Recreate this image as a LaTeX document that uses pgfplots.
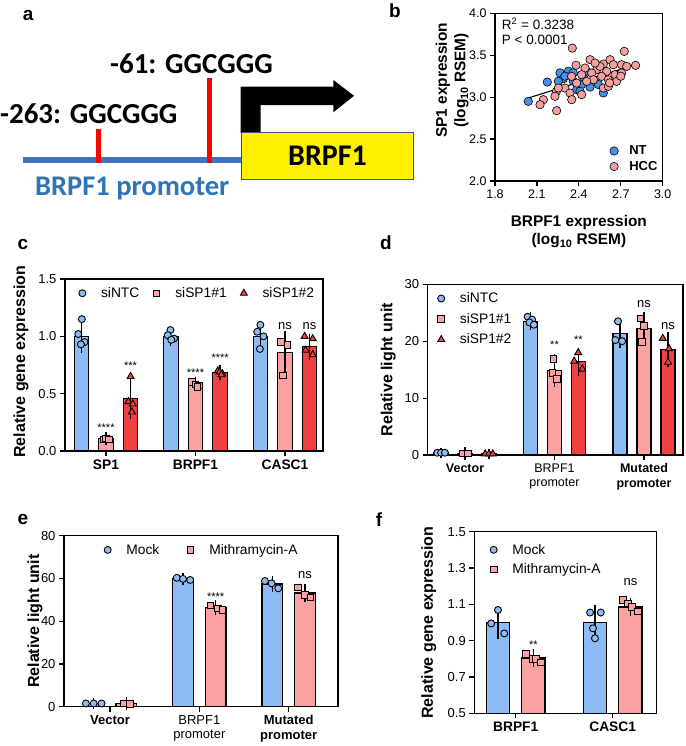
\documentclass[border=0pt]{standalone}
\usepackage{fontspec}
\setmainfont{Liberation Sans}
\newfontfamily\calfont{Carlito}
\usepackage{pgfplots}
\pgfplotsset{compat=1.18}

\definecolor{barblue}{RGB}{141,188,244}
\definecolor{barpink}{RGB}{250,162,162}
\definecolor{barred}{RGB}{242,64,64}
\definecolor{ntblue}{RGB}{70,145,235}
\definecolor{hccpink}{RGB}{245,160,160}
\definecolor{promblue}{RGB}{46,117,182}
\definecolor{linblue}{RGB}{68,114,196}
\definecolor{boxedge}{RGB}{47,82,143}

\newcommand{\fs}[1]{\fontsize{#1}{#1}\selectfont}

\pgfplotsset{
  panel/.style={
    scale only axis, anchor=south west, clip=false,
    axis line style={line width=1.3pt},
    tick pos=left, tick align=outside, major tick length=5pt,
    every tick/.style={black, line width=1.2pt},
    /pgf/number format/assume math mode=true,
    yticklabel style={font=\fs{13}},
    xticklabel style={font=\fs{13}},
    ylabel style={font=\bfseries\fs{16}, anchor=center},
    legend style={draw=none, fill=none, font=\fs{13.8}},
    legend cell align=left,
    legend image code/.code={\draw[##1] plot coordinates {(0pt,0pt)};\path (-5pt,0pt) (16.5pt,0pt);},
  },
  onedec/.style={yticklabel style={/pgf/number format/fixed, /pgf/number format/fixed zerofill, /pgf/number format/precision=1}},
  bars/.style 2 args={ybar, bar width=#1, bar shift=0pt, fill=#2, draw=black, line width=1.2pt, forget plot,
    error bars/.cd, y dir=both, y explicit,
    error bar style={line width=1.2pt, black},
    error mark options={mark size=5pt, line width=1.2pt, black}},
  pts/.style 2 args={only marks, forget plot, mark=#1, mark options={fill=#2, draw=black, line width=0.9pt}},
}

\begin{document}
\begin{tikzpicture}
\path[use as bounding box] (0,0) rectangle (685pt,-746pt);

% panel letters
\node[anchor=base west, inner sep=0, font=\bfseries\fs{19}] at (22.7pt,-20.7pt) {a};
\node[anchor=base west, inner sep=0, font=\bfseries\fs{19}] at (389pt,-17.3pt) {b};
\node[anchor=base west, inner sep=0, font=\bfseries\fs{19}] at (17.3pt,-249pt) {c};
\node[anchor=base west, inner sep=0, font=\bfseries\fs{19}] at (380pt,-249pt) {d};
\node[anchor=base west, inner sep=0, font=\bfseries\fs{19}] at (17.3pt,-524pt) {e};
\node[anchor=base west, inner sep=0, font=\bfseries\fs{19}] at (375.7pt,-526pt) {f};

% ---------------- panel a (schematic) ----------------
\begin{axis}[scale only axis, hide axis, anchor=north west, at={(0pt,0pt)},
  width=440pt, height=200pt, xmin=0, xmax=440, ymin=0, ymax=200, y dir=reverse, clip=false]
\draw[linblue, line width=6pt] (22.7,160) -- (242,160);
\draw[red, line width=5pt] (98,129) -- (98,163);
\draw[red, line width=5pt] (209,78.3) -- (209,163);
\fill[black] (240.7,133) -- (240.7,86.7) -- (333.3,86.7) -- (333.3,80) -- (354,95.8)
  -- (333.3,112.3) -- (333.3,105) -- (260.7,105) -- (260.7,133) -- cycle;
\draw[boxedge, line width=1.5pt, fill=yellow] (241.7,132.7) rectangle (413.3,179.3);
\node[anchor=base west, inner sep=0, font=\calfont\bfseries\fs{29}] at (110,74) {-61: GGCGGG};
\node[anchor=base west, inner sep=0, font=\calfont\bfseries\fs{29}] at (0,123.3) {-263: GGCGGG};
\node[anchor=base west, inner sep=0, font=\calfont\bfseries\fs{28.5}, text=promblue] at (35,195) {BRPF1 promoter};
\node[anchor=base, inner sep=0, font=\calfont\bfseries\fs{30}] at (327.5,165) {BRPF1};
\end{axis}

% ---------------- panel b (scatter) ----------------
\begin{axis}[panel, onedec, at={(495pt,-181pt)}, width=167.7pt, height=167.7pt,
  xmin=1.8, xmax=3.0, ymin=2, ymax=4,
  xtick={1.8,2.1,2.4,2.7,3.0}, ytick={2,2.5,3,3.5,4},
  xticklabel style={font=\fs{12.5}, /pgf/number format/fixed, /pgf/number format/fixed zerofill, /pgf/number format/precision=1},
  yticklabel style={font=\fs{12.5}},
  xlabel={BRPF1 expression\\(log\textsubscript{10} RSEM)},
  xlabel style={font=\bfseries\fontsize{15.4}{18.5}\selectfont, align=center, at={(axis description cs:0.5,-0.30)}, anchor=center},
  ylabel={SP1 expression\\(log\textsubscript{10} RSEM)},
  ylabel style={font=\bfseries\fontsize{15.4}{18.5}\selectfont, align=center, at={(axis description cs:-0.255,0.6)}},
  legend image code/.code={\draw[#1] plot coordinates {(0pt,0pt)};\path (-5pt,0pt) (13pt,0pt);},
  legend style={at={(rel axis cs:0.66,0.03)}, anchor=south west, font=\bfseries\fs{13}, row sep=1pt},
]
\addlegendimage{only marks, mark=*, mark size=4.2pt, mark options={fill=ntblue, draw=black, line width=0.6pt}}
\addlegendentry{NT}
\addlegendimage{only marks, mark=*, mark size=4.2pt, mark options={fill=hccpink, draw=black, line width=0.6pt}}
\addlegendentry{HCC}
\addplot[only marks, forget plot, mark=*, mark size=4.2pt, mark options={fill=ntblue, draw=black, line width=0.6pt}] coordinates {
(2.038,2.95) (2.174,3.18) (2.265,3.29) (2.289,3.22) (2.253,3.19) (2.325,3.31)
(2.36,3.19) (2.384,3.09) (2.42,3.15) (2.432,3.24) (2.408,3.07) (2.54,3.15)
(2.575,3.05) (2.36,3.29) (2.456,3.31) (2.30,3.25) (2.48,3.12)
};
\addplot[only marks, forget plot, mark=*, mark size=4.2pt, mark options={fill=hccpink, draw=black, line width=0.6pt}] coordinates {
(2.353,3.585) (2.725,3.546) (2.806,3.379) (2.38,3.38) (2.48,3.447) (2.575,3.395)
(2.623,3.447) (2.647,3.387) (2.706,3.387) (2.742,3.367) (2.444,3.347) (2.527,3.327)
(2.599,3.307) (2.492,3.288) (2.42,3.268) (2.348,3.248) (2.563,3.248) (2.659,3.268)
(2.706,3.288) (2.504,3.208) (2.611,3.208) (2.67,3.188) (2.384,3.168) (2.456,3.188)
(2.30,3.109) (2.24,3.07) (2.337,3.049) (2.229,3.01) (2.349,2.97) (2.42,3.03)
(2.575,3.109) (2.611,3.128) (2.146,2.97) (2.122,2.91) (2.241,2.839) (2.253,3.109)
(2.551,3.367) (2.516,3.407) (2.62,3.17) (2.70,3.25)
};
\addplot[black, line width=1.1pt, forget plot] coordinates {(2.038,2.99) (2.806,3.387)};
\node[anchor=north west, align=left, inner sep=0, font=\fontsize{13.5}{15.3}\selectfont] at (rel axis cs:0.04,0.975) {R\textsuperscript{2} = 0.3238\\P < 0.0001};
\end{axis}

% ---------------- panel c ----------------
\begin{axis}[panel, onedec, at={(65pt,-451pt)}, width=258pt, height=172pt,
  xmin=-0.458, xmax=2.425, ymin=0, ymax=1.5, ytick={0,0.5,1,1.5},
  xtick={0,1,2}, xticklabels={SP1,BRPF1,CASC1}, xticklabel style={font=\bfseries\fs{13.8}},
  ylabel={Relative gene expression}, ylabel style={at={(axis description cs:-0.17,0.52)}},
  legend columns=3, legend style={at={(rel axis cs:0.51,0.975)}, anchor=north, /tikz/every even column/.append style={column sep=10pt}},
]
\addlegendimage{only marks, mark=*, mark size=3.5pt, mark options={fill=barblue, draw=black, line width=0.9pt}}
\addlegendentry{siNTC}
\addlegendimage{only marks, mark=square*, mark size=3.3pt, mark options={fill=barpink, draw=black, line width=0.9pt}}
\addlegendentry{siSP1\#1}
\addlegendimage{only marks, mark=triangle*, mark size=4pt, mark options={fill=barred, draw=black, line width=0.9pt}}
\addlegendentry{siSP1\#2}
\addplot[bars={0.162}{barblue}] coordinates {(-0.275,1.0) +- (0,0.10) (0.725,1.0) +- (0,0.04) (1.725,1.0) +- (0,0.09)};
\addplot[bars={0.162}{barpink}] coordinates {(0,0.11) +- (0,0.015) (1,0.585) +- (0,0.02) (2,0.86) +- (0,0.14)};
\addplot[bars={0.162}{barred}] coordinates {(0.275,0.46) +- (0,0.14) (1.275,0.685) +- (0,0.02) (2.275,0.91) +- (0,0.07)};
\addplot[pts={*}{barblue}, mark size=3.5pt] coordinates {
(-0.27,1.15) (-0.31,1.02) (-0.24,0.95) (-0.28,0.93)
(0.72,1.055) (0.69,1.01) (0.76,0.98) (0.73,0.97)
(1.725,1.10) (1.69,1.04) (1.76,1.0) (1.72,0.89)};
\addplot[pts={square*}{barpink}, mark size=3.3pt] coordinates {
(-0.03,0.10) (0.0,0.11) (0.03,0.10)
(0.96,0.60) (1.0,0.58) (1.04,0.57) (1.02,0.56)
(1.955,0.95) (2.026,0.925) (1.98,0.66)};
\addplot[pts={triangle*}{barred}, mark size=4pt] coordinates {
(0.275,0.65) (0.25,0.43) (0.30,0.41) (0.29,0.34)
(1.25,0.70) (1.27,0.69) (1.30,0.675) (1.29,0.665)
(2.22,1.0) (2.31,0.98) (2.23,0.88) (2.31,0.84)};
\node[font=\fs{11}] at (axis cs:0,0.20) {****};
\node[font=\fs{11}] at (axis cs:0.275,0.74) {***};
\node[font=\fs{11}] at (axis cs:1,0.68) {****};
\node[font=\fs{11}] at (axis cs:1.275,0.81) {****};
\node[font=\fs{13}] at (axis cs:2,1.09) {ns};
\node[font=\fs{13}] at (axis cs:2.275,1.09) {ns};
\end{axis}

% ---------------- panel d ----------------
\begin{axis}[panel, at={(427.7pt,-455pt)}, width=255.3pt, height=170.7pt,
  xmin=-0.417, xmax=2.436, ymin=0, ymax=30, ytick={0,10,20,30},
  xtick={0,1,2}, xticklabels={\textbf{Vector}, {BRPF1\\promoter}, {\textbf{Mutated}\\\textbf{promoter}}},
  xticklabel style={align=center, font=\fontsize{12.5}{14.5}\selectfont},
  ylabel={Relative light unit}, ylabel style={at={(axis description cs:-0.154,0.5)}},
  legend style={at={(rel axis cs:0.02,0.975)}, anchor=north west, row sep=5pt},
]
\addlegendimage{only marks, mark=*, mark size=3.5pt, mark options={fill=barblue, draw=black, line width=0.9pt}}
\addlegendentry{siNTC}
\addlegendimage{only marks, mark=square*, mark size=3.3pt, mark options={fill=barpink, draw=black, line width=0.9pt}}
\addlegendentry{siSP1\#1}
\addlegendimage{only marks, mark=triangle*, mark size=4pt, mark options={fill=barred, draw=black, line width=0.9pt}}
\addlegendentry{siSP1\#2}
\addplot[bars={0.156}{barblue}] coordinates {(-0.268,0.4) +- (0,0.02) (0.732,23.5) +- (0,0.7) (1.732,21.3) +- (0,1.7)};
\addplot[bars={0.156}{barpink}] coordinates {(0,0.3) +- (0,0.3) (1,14.8) +- (0,2.0) (2,22.2) +- (0,2.1)};
\addplot[bars={0.156}{barred}] coordinates {(0.268,0.2) +- (0,0.05) (1.268,16.4) +- (0,1.6) (2.268,18.5) +- (0,2.2)};
\addplot[pts={*}{barblue}, mark size=3.5pt] coordinates {
(-0.31,0.4) (-0.268,0.4) (-0.225,0.4)
(0.70,24.3) (0.75,23.8) (0.72,23.3) (0.77,22.9)
(1.71,23.5) (1.68,20.2) (1.755,20.0)};
\addplot[pts={square*}{barpink}, mark size=3.3pt] coordinates {
(-0.03,0.3) (0.03,0.3)
(0.99,16.9) (0.975,14.4) (1.025,13.4)
(1.96,24.0) (2.0,22.7) (1.98,19.9)};
\addplot[pts={triangle*}{barred}, mark size=4pt] coordinates {
(0.225,0.2) (0.268,0.2) (0.31,0.2)
(1.265,18.0) (1.22,16.5) (1.31,15.1)
(2.21,20.5) (2.28,18.7) (2.27,16.3)};
\node[font=\fs{11}] at (axis cs:1,19.3) {**};
\node[font=\fs{11}] at (axis cs:1.268,20.2) {**};
\node[font=\fs{13}] at (axis cs:2,26.5) {ns};
\node[font=\fs{13}] at (axis cs:2.268,22.7) {ns};
\end{axis}

% ---------------- panel e ----------------
\begin{axis}[panel, at={(64pt,-706.7pt)}, width=274pt, height=171pt,
  xmin=-0.515, xmax=2.552, ymin=0, ymax=80, ytick={0,20,40,60,80},
  xtick={0,1,2}, xticklabels={\textbf{Vector}, {BRPF1\\promoter}, {\textbf{Mutated}\\\textbf{promoter}}},
  xticklabel style={align=center, font=\fontsize{13}{14.5}\selectfont},
  ylabel={Relative light unit}, ylabel style={at={(axis description cs:-0.106,0.5)}},
  legend columns=2, legend style={at={(rel axis cs:0.5,0.975)}, anchor=north, /tikz/every even column/.append style={column sep=24pt}},
]
\addlegendimage{only marks, mark=*, mark size=3.5pt, mark options={fill=barblue, draw=black, line width=0.9pt}}
\addlegendentry{Mock}
\addlegendimage{only marks, mark=square*, mark size=3.3pt, mark options={fill=barpink, draw=black, line width=0.9pt}}
\addlegendentry{Mithramycin-A}
\addplot[bars={0.232}{barblue}] coordinates {(-0.183,1.5) +- (0,0.1) (0.817,59.8) +- (0,0.5) (1.817,57.4) +- (0,1.3)};
\addplot[bars={0.232}{barpink}] coordinates {(0.183,1.5) +- (0,0.7) (1.183,46.4) +- (0,1.3) (2.183,53.2) +- (0,2.0)};
\addplot[pts={*}{barblue}, mark size=3.5pt] coordinates {
(-0.27,1.5) (-0.183,1.5) (-0.095,1.5)
(0.747,60.3) (0.817,59.8) (0.897,59.3)
(1.734,58.8) (1.809,57.7) (1.883,55.4)};
\addplot[pts={square*}{barpink}, mark size=3.3pt] coordinates {
(0.15,1.6) (0.22,1.3)
(1.126,47.4) (1.211,45.9) (1.26,45.2)
(2.106,55.8) (2.183,52.3) (2.245,51.2)};
\node[font=\fs{11}] at (axis cs:1.183,51.5) {****};
\node[font=\fs{13}] at (axis cs:2.183,61.6) {ns};
\end{axis}

% ---------------- panel f ----------------
\begin{axis}[panel, onedec, clip=true, at={(474.3pt,-713.3pt)}, width=182.4pt, height=181.6pt,
  xmin=-0.427, xmax=1.454, ymin=0.5, ymax=1.5, ytick={0.5,0.7,0.9,1.1,1.3,1.5},
  xtick={0,1}, xticklabels={BRPF1,CASC1}, xticklabel style={font=\bfseries\fs{13.8}},
  ylabel={Relative gene expression}, ylabel style={at={(axis description cs:-0.25,0.5)}},
  legend style={at={(rel axis cs:0.06,0.955)}, anchor=north west, row sep=4pt},
]
\addlegendimage{only marks, mark=*, mark size=3.5pt, mark options={fill=barblue, draw=black, line width=0.9pt}}
\addlegendentry{Mock}
\addlegendimage{only marks, mark=square*, mark size=3.3pt, mark options={fill=barpink, draw=black, line width=0.9pt}}
\addlegendentry{Mithramycin-A}
\addplot[bars={0.24}{barblue}] coordinates {(-0.183,1.0) +- (0,0.066) (0.817,1.0) +- (0,0.07)};
\addplot[bars={0.24}{barpink}] coordinates {(0.183,0.805) +- (0,0.02) (1.183,1.085) +- (0,0.02)};
\addplot[pts={*}{barblue}, mark size=3.5pt] coordinates {
(-0.253,0.995) (-0.183,1.069) (-0.118,0.94)
(0.767,1.055) (0.877,1.055) (0.797,0.968) (0.817,0.913)};
\addplot[pts={square*}{barpink}, mark size=3.3pt] coordinates {
(0.105,0.827) (0.173,0.80) (0.208,0.80) (0.258,0.78)
(1.107,1.124) (1.159,1.105) (1.20,1.087) (1.262,1.06)};
\node[font=\fs{11}] at (axis cs:0.183,0.876) {**};
\node[font=\fs{13}] at (axis cs:1.183,1.225) {ns};
\end{axis}
\end{tikzpicture}
\end{document}
